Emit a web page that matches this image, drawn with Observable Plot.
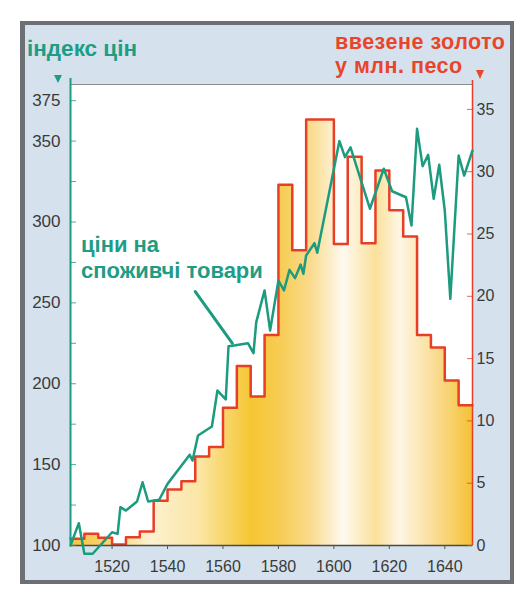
<!DOCTYPE html>
<html><head><meta charset="utf-8">
<script src="https://cdn.jsdelivr.net/npm/d3@7"></script>
<script src="https://cdn.jsdelivr.net/npm/@observablehq/plot@0.6"></script>
<style>
body{margin:0;background:#fff;}
#page{position:relative;width:524px;height:598px;overflow:hidden;font-family:"Liberation Sans",Arial,sans-serif;}
#frame{position:absolute;left:20px;top:21px;width:485px;height:555px;border:4px solid #6c6f74;border-left-width:5px;background:#d5e2ee;}
#chart{position:absolute;left:0;top:0;}
.t{position:absolute;font-weight:bold;white-space:nowrap;}
#t1{left:27px;top:38px;font-size:22.5px;line-height:22px;color:#1f9c84;}
#t2a,#t2b{left:335px;font-size:21.5px;line-height:21.5px;letter-spacing:0.5px;color:#e8452a;}
#t2a{top:32px;}
#t2b{top:56px;}
#ann{left:81px;top:232px;font-size:22px;line-height:26px;color:#1f9c84;}
.tri{position:absolute;width:0;height:0;}
#triG{left:54px;top:75px;border-left:4px solid transparent;border-right:4px solid transparent;border-top:8px solid #1f9c84;}
#triR{left:476px;top:70px;border-left:4px solid transparent;border-right:4px solid transparent;border-top:9px solid #e8452a;}
</style></head>
<body>
<div id="page">
  <div id="frame"></div>
  <div id="chart"></div>
  <div class="t" id="t1">індекс цін</div>
  <div class="t" id="t2a">ввезене золото</div>
  <div class="t" id="t2b">у млн. песо</div>
  <div class="t" id="ann">ціни на<br>споживчі товари</div>
  <div class="tri" id="triG"></div>
  <div class="tri" id="triR"></div>
</div>
<script>
// ---- data ----
const xDomain = [1505, 1650];
const indexDomain = [100, 385];
const goldDomain = [0, 37];

const xTicks = [1520, 1540, 1560, 1580, 1600, 1620, 1640];
const indexTickMarks = [100, 125, 150, 175, 200, 225, 250, 275, 300, 325, 350, 375];
const indexTickLabels = [100, 150, 200, 250, 300, 350, 375];
const goldTicks = [0, 5, 10, 15, 20, 25, 30, 35];

// imported gold (million pesos), step boundaries and values
const goldEdges = [1505,1510,1515,1520,1525,1530,1535,1540,1545,1550,1555,1560,1565,1570,1575,1580,1585,1590,1600,1605,1610,1615,1620,1625,1630,1635,1640,1645,1650];
const goldValues = [0.55,0.95,0.62,0.08,0.67,1.12,3.6,4.5,5.15,7.15,7.9,11.05,14.4,11.95,16.9,28.95,23.7,34.2,24.2,31.2,24.25,30.1,26.9,24.8,16.9,15.9,13.25,11.25];

// consumer price index
const priceYears = [1505,1508,1510,1513,1520,1522,1523,1525,1529,1531,1533,1537,1540,1548,1549,1551,1556,1558,1561,1562,1564,1569,1571,1572,1575,1577,1580,1582,1584,1586,1588,1589,1590,1593,1594,1602,1604,1606,1613,1618,1621,1626,1628,1630,1632,1634,1636,1638,1640,1642,1645,1647,1650];
const priceIndex = [100,113.8,94.9,94.9,108.2,107.2,123.7,121.6,127.2,139.1,127.2,128.3,138.1,156.1,152.5,168,173.6,195.8,190.3,223.2,223.6,225.1,218.9,238.1,257.7,232.9,263.8,257.7,270.4,265.3,273.7,268,279.3,286.9,281,350,340.1,346.2,308.2,332.9,319,315.3,297.8,357.6,334.5,341.5,314.3,335.4,307.1,252.5,341.1,328.7,344.2];

// annotation leader (year, index)
const leaderYears = [1550, 1563.4];
const leaderIndex = [257, 225];

// ---- helpers ----
const k = (indexDomain[1] - indexDomain[0]) / (goldDomain[1] - goldDomain[0]);
const goldToIdx = g => indexDomain[0] + (g - goldDomain[0]) * k;
const idxToGold = v => goldDomain[0] + (v - indexDomain[0]) / k;

const GREEN = "#1c9b7f", RED = "#e63f26";

const goldPts = goldEdges.map((y, i) => ({year: y, gold: goldValues[Math.min(i, goldValues.length - 1)]}));
const pricePts = priceYears.map((y, i) => ({year: y, idx: priceIndex[i]}));
const leader = leaderYears.map((y, i) => ({year: y, idx: leaderIndex[i]}));

const plot = Plot.plot({
  width: 524, height: 598,
  marginLeft: 70, marginRight: 52, marginTop: 84, marginBottom: 53,
  style: {background: "transparent", fontFamily: "Liberation Sans, Arial, sans-serif", overflow: "visible"},
  x: {domain: xDomain, axis: null},
  y: {domain: indexDomain, axis: null},
  marks: [
    Plot.frame({fill: "white", stroke: "none"}),
    Plot.areaY(goldPts, {x: "year", y1: () => indexDomain[0], y2: d => goldToIdx(d.gold), curve: "step-after", fill: "url(#goldfill)"}),
    Plot.line(goldPts, {x: "year", y: d => goldToIdx(d.gold), curve: "step-after", stroke: RED, strokeWidth: 2.5}),
    Plot.ruleY([indexDomain[1]], {stroke: "#8a8d90", strokeWidth: 1}),
    Plot.ruleY([indexDomain[0]], {stroke: "#4a4a4a", strokeWidth: 1.5}),
    Plot.ruleX([xDomain[0]], {stroke: GREEN, strokeWidth: 2, insetTop: -6}),
    Plot.ruleX([xDomain[1]], {stroke: RED, strokeWidth: 1.5, insetTop: -4}),
    Plot.line(pricePts, {x: "year", y: "idx", stroke: GREEN, strokeWidth: 2.5, strokeLinejoin: "round"}),
    Plot.line(leader, {x: "year", y: "idx", stroke: GREEN, strokeWidth: 3}),
    Plot.axisY(indexTickMarks, {anchor: "left", tickSize: 6, dx: 6, fill: "none", stroke: GREEN, strokeOpacity: 0.8, label: null}),
    Plot.axisY(indexTickLabels, {anchor: "left", tickSize: 0, tickPadding: 10, fill: "#3a3a3a", fontSize: 17, label: null}),
    Plot.axisY(goldTicks.map(goldToIdx), {anchor: "right", tickSize: 6, dx: -6, fill: "none", stroke: RED, strokeOpacity: 0.8, label: null}),
    Plot.axisY(goldTicks.map(goldToIdx), {anchor: "right", tickSize: 0, tickPadding: 4, fill: "#3a3a3a", fontSize: 16, tickFormat: d => String(Math.round(idxToGold(d))), label: null}),
    Plot.axisX(xTicks, {tickSize: 4, tickPadding: 11, stroke: "#555", fill: "#3a3a3a", fontSize: 16, tickFormat: d => String(d), label: null})
  ]
});

// gradient for the gold fill
const svg = d3.select(plot);
const defs = svg.insert("defs", ":first-child");
const grad = defs.append("linearGradient").attr("id", "goldfill").attr("x1", 0).attr("x2", 1).attr("y1", 0).attr("y2", 0);
const stops = [[0,"#f5c443"],[0.1,"#f8d676"],[0.2,"#fdf1d0"],[0.32,"#fbe6a6"],[0.45,"#f5c632"],[0.52,"#f7cc52"],[0.6,"#fadb8e"],[0.68,"#fffaf0"],[0.76,"#fae09a"],[0.82,"#fef6e4"],[0.9,"#fadf9c"],[1,"#f5c235"]];
stops.forEach(([o, c]) => grad.append("stop").attr("offset", o).attr("stop-color", c));

document.getElementById("chart").appendChild(plot);
</script>
</body></html>
